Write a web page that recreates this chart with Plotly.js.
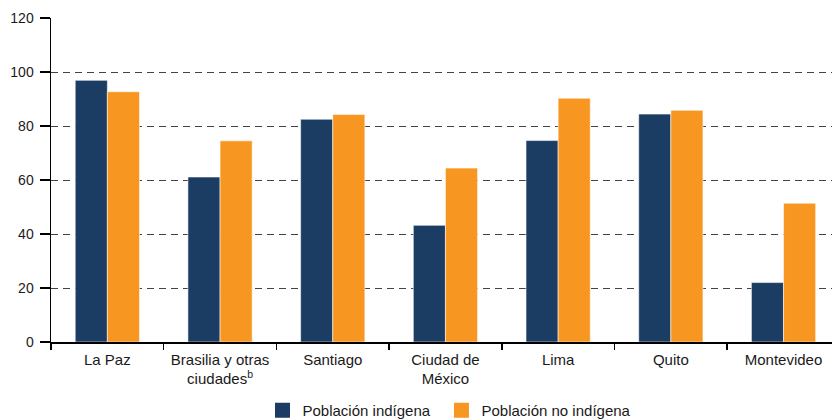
<!DOCTYPE html>
<html>
<head>
<meta charset="utf-8">
<script src="https://cdn.plot.ly/plotly-3.0.1.min.js"></script>
<style>html,body{margin:0;padding:0;background:#fff;}#chart{width:832px;height:419px;}</style>
</head>
<body>
<div id="chart"></div>
<script>
const categories = ["La Paz", "Brasilia y otras<br>ciudades<sup>b</sup>", "Santiago", "Ciudad de<br>México", "Lima", "Quito", "Montevideo"];
const indigena = [96.9, 61.1, 82.5, 43.2, 74.6, 84.4, 22.0];
const noIndigena = [92.7, 74.5, 84.3, 64.4, 90.3, 85.8, 51.4];
const seriesNames = ["Población indígena", "Población no indígena"];
const yTicks = [0, 20, 40, 60, 80, 100, 120];

const navy = "#1b3c63";
const orange = "#f79722";
const font = "Liberation Sans, Arial, sans-serif";

const traces = [
  {type: "bar", x: categories, y: indigena, name: seriesNames[0], showlegend: false,
   marker: {color: navy, line: {color: "rgba(255,255,255,0.55)", width: 1}}},
  {type: "bar", x: categories, y: noIndigena, name: seriesNames[1], showlegend: false,
   marker: {color: orange, line: {color: "rgba(255,255,255,0.55)", width: 1}}},
  {type: "scatter", mode: "markers", x: [null], y: [null], name: seriesNames[0], showlegend: true,
   legend: "legend", marker: {symbol: "square", size: 15, color: navy}},
  {type: "scatter", mode: "markers", x: [null], y: [null], name: seriesNames[1], showlegend: true,
   legend: "legend2", marker: {symbol: "square", size: 15, color: orange}}
];

const legendFont = {family: font, size: 15, color: "#1a1a1a"};

const layout = {
  width: 832, height: 419,
  margin: {l: 51, r: 0, t: 18, b: 77, autoexpand: false},
  paper_bgcolor: "#fff", plot_bgcolor: "#fff",
  font: {family: font, size: 15, color: "#1a1a1a"},
  barmode: "group",
  bargap: 0.43, bargroupgap: 0,
  showlegend: true,
  legend: {orientation: "h", x: 0.3155, xanchor: "left", xref: "container",
           y: 0.02, yanchor: "middle", yref: "container", font: legendFont},
  legend2: {orientation: "h", x: 0.5306, xanchor: "left", xref: "container",
           y: 0.02, yanchor: "middle", yref: "container", font: legendFont},
  xaxis: {
    type: "category", range: [-0.5, 6.43], fixedrange: true, automargin: false,
    showline: true, linecolor: "#000", linewidth: 1.5,
    ticks: "outside", tickson: "boundaries", ticklen: 6, tickcolor: "#000", tickwidth: 1.5,
    ticklabelstandoff: 3,
    showgrid: false, zeroline: false,
    tickfont: {family: font, size: 15, color: "#1a1a1a"}
  },
  yaxis: {
    range: [0, 120], tickvals: yTicks, ticktext: yTicks.map(String), automargin: false,
    showline: true, linecolor: "#000", linewidth: 1.5,
    ticks: "outside", ticklen: 10, tickcolor: "#000", tickwidth: 1.2,
    ticklabelstandoff: 3,
    showgrid: true, gridcolor: "#444", gridwidth: 1, griddash: "7px,5px",
    zeroline: false,
    tickfont: {family: font, size: 14, color: "#1a1a1a"}
  }
};

Plotly.newPlot("chart", traces, layout, {displayModeBar: false, staticPlot: true});
</script>
</body>
</html>
